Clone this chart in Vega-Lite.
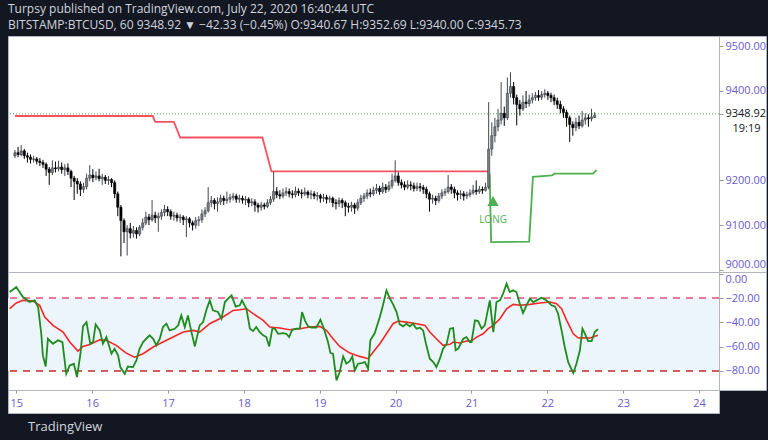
{
"$schema": "https://vega.github.io/schema/vega-lite/v6.json",
"background": "#131722",
"padding": {"top": 2, "left": 5, "right": 5, "bottom": 6},
"title": {"text": "Turpsy published on TradingView.com, July 22, 2020 16:40:44 UTC", "subtitle": "BITSTAMP:BTCUSD, 60  9348.92 ▼ −42.33 (−0.45%) O:9340.67 H:9352.69 L:9340.00 C:9345.73", "anchor": "start", "frame": "group", "color": "#d1d4dc", "font": "Open Sans", "fontSize": 12, "fontWeight": "normal", "subtitleColor": "#d1d4dc", "subtitleFont": "Open Sans", "subtitleFontSize": 12, "subtitleFontWeight": "normal", "subtitlePadding": 4, "offset": 4},
"config": {"view": {"fill": "white", "stroke": "#b2b5be"}, "concat": {"spacing": 0}},
"spacing": 0,
"columns": 2,
"bounds": "flush",
"datasets": {
"candles": [
{"t":-2,"o":9255,"h":9268,"l":9250,"c":9262},{"t":-1,"o":9262,"h":9275,"l":9252,"c":9258},{"t":0,"o":9258,"h":9279,"l":9254,"c":9266},{"t":1,"o":9266,"h":9270,"l":9248,"c":9255},{"t":2,"o":9255,"h":9262,"l":9240,"c":9252},{"t":3,"o":9252,"h":9258,"l":9238,"c":9247},{"t":4,"o":9247,"h":9255,"l":9240,"c":9248},{"t":5,"o":9248,"h":9252,"l":9236,"c":9243},{"t":6,"o":9243,"h":9250,"l":9232,"c":9240},{"t":7,"o":9240,"h":9246,"l":9228,"c":9236},
{"t":8,"o":9236,"h":9240,"l":9210,"c":9225},{"t":9,"o":9225,"h":9230,"l":9190,"c":9218},{"t":10,"o":9218,"h":9245,"l":9212,"c":9228},{"t":11,"o":9228,"h":9242,"l":9218,"c":9226},{"t":12,"o":9226,"h":9244,"l":9220,"c":9230},{"t":13,"o":9230,"h":9240,"l":9215,"c":9224},{"t":14,"o":9224,"h":9236,"l":9210,"c":9228},{"t":15,"o":9228,"h":9238,"l":9212,"c":9220},{"t":16,"o":9220,"h":9224,"l":9185,"c":9205},{"t":17,"o":9205,"h":9210,"l":9156,"c":9198},
{"t":18,"o":9198,"h":9205,"l":9170,"c":9192},{"t":19,"o":9192,"h":9198,"l":9165,"c":9180},{"t":20,"o":9180,"h":9195,"l":9172,"c":9186},{"t":21,"o":9186,"h":9215,"l":9180,"c":9205},{"t":22,"o":9205,"h":9234,"l":9198,"c":9212},{"t":23,"o":9212,"h":9225,"l":9196,"c":9206},{"t":24,"o":9206,"h":9220,"l":9200,"c":9210},{"t":25,"o":9210,"h":9226,"l":9198,"c":9204},{"t":26,"o":9204,"h":9215,"l":9190,"c":9207},{"t":27,"o":9207,"h":9212,"l":9192,"c":9200},
{"t":28,"o":9200,"h":9210,"l":9190,"c":9202},{"t":29,"o":9202,"h":9205,"l":9185,"c":9195},{"t":30,"o":9195,"h":9200,"l":9160,"c":9170},{"t":31,"o":9170,"h":9175,"l":9120,"c":9140},{"t":32,"o":9140,"h":9145,"l":9030,"c":9110},{"t":33,"o":9110,"h":9115,"l":9060,"c":9085},{"t":34,"o":9085,"h":9100,"l":9032,"c":9092},{"t":35,"o":9092,"h":9105,"l":9070,"c":9082},{"t":36,"o":9082,"h":9098,"l":9072,"c":9088},{"t":37,"o":9088,"h":9095,"l":9070,"c":9080},
{"t":38,"o":9080,"h":9100,"l":9075,"c":9095},{"t":39,"o":9095,"h":9115,"l":9088,"c":9105},{"t":40,"o":9105,"h":9130,"l":9100,"c":9118},{"t":41,"o":9118,"h":9125,"l":9100,"c":9112},{"t":42,"o":9112,"h":9156,"l":9108,"c":9122},{"t":43,"o":9122,"h":9130,"l":9105,"c":9116},{"t":44,"o":9116,"h":9128,"l":9085,"c":9120},{"t":45,"o":9120,"h":9135,"l":9112,"c":9128},{"t":46,"o":9128,"h":9145,"l":9120,"c":9135},{"t":47,"o":9135,"h":9142,"l":9120,"c":9130},
{"t":48,"o":9130,"h":9135,"l":9112,"c":9120},{"t":49,"o":9120,"h":9130,"l":9110,"c":9122},{"t":50,"o":9122,"h":9128,"l":9108,"c":9116},{"t":51,"o":9116,"h":9125,"l":9105,"c":9118},{"t":52,"o":9118,"h":9122,"l":9100,"c":9112},{"t":53,"o":9112,"h":9120,"l":9073,"c":9114},{"t":54,"o":9114,"h":9118,"l":9095,"c":9105},{"t":55,"o":9105,"h":9110,"l":9088,"c":9100},{"t":56,"o":9100,"h":9118,"l":9092,"c":9110},{"t":57,"o":9110,"h":9120,"l":9098,"c":9112},
{"t":58,"o":9112,"h":9135,"l":9105,"c":9125},{"t":59,"o":9125,"h":9140,"l":9118,"c":9132},{"t":60,"o":9132,"h":9185,"l":9128,"c":9150},{"t":61,"o":9150,"h":9165,"l":9140,"c":9155},{"t":62,"o":9155,"h":9160,"l":9135,"c":9148},{"t":63,"o":9148,"h":9162,"l":9130,"c":9152},{"t":64,"o":9152,"h":9168,"l":9145,"c":9160},{"t":65,"o":9160,"h":9166,"l":9145,"c":9155},{"t":66,"o":9155,"h":9175,"l":9148,"c":9158},{"t":67,"o":9158,"h":9170,"l":9150,"c":9162},
{"t":68,"o":9162,"h":9172,"l":9155,"c":9165},{"t":69,"o":9165,"h":9170,"l":9150,"c":9158},{"t":70,"o":9158,"h":9168,"l":9150,"c":9160},{"t":71,"o":9160,"h":9166,"l":9148,"c":9156},{"t":72,"o":9156,"h":9165,"l":9145,"c":9158},{"t":73,"o":9158,"h":9162,"l":9140,"c":9150},{"t":74,"o":9150,"h":9160,"l":9142,"c":9152},{"t":75,"o":9152,"h":9158,"l":9130,"c":9145},{"t":76,"o":9145,"h":9150,"l":9128,"c":9140},{"t":77,"o":9140,"h":9152,"l":9132,"c":9145},
{"t":78,"o":9145,"h":9150,"l":9135,"c":9142},{"t":79,"o":9142,"h":9158,"l":9138,"c":9150},{"t":80,"o":9150,"h":9165,"l":9145,"c":9158},{"t":81,"o":9158,"h":9220,"l":9152,"c":9175},{"t":82,"o":9175,"h":9185,"l":9160,"c":9168},{"t":83,"o":9168,"h":9178,"l":9158,"c":9165},{"t":84,"o":9165,"h":9182,"l":9160,"c":9172},{"t":85,"o":9172,"h":9185,"l":9165,"c":9175},{"t":86,"o":9175,"h":9182,"l":9162,"c":9170},{"t":87,"o":9170,"h":9178,"l":9160,"c":9168},
{"t":88,"o":9168,"h":9186,"l":9162,"c":9176},{"t":89,"o":9176,"h":9182,"l":9165,"c":9172},{"t":90,"o":9172,"h":9180,"l":9160,"c":9170},{"t":91,"o":9170,"h":9184,"l":9165,"c":9174},{"t":92,"o":9174,"h":9178,"l":9160,"c":9168},{"t":93,"o":9168,"h":9178,"l":9158,"c":9170},{"t":94,"o":9170,"h":9176,"l":9158,"c":9165},{"t":95,"o":9165,"h":9174,"l":9155,"c":9166},{"t":96,"o":9166,"h":9170,"l":9150,"c":9160},{"t":97,"o":9160,"h":9170,"l":9152,"c":9162},
{"t":98,"o":9162,"h":9168,"l":9148,"c":9158},{"t":99,"o":9158,"h":9166,"l":9150,"c":9160},{"t":100,"o":9160,"h":9164,"l":9140,"c":9150},{"t":101,"o":9150,"h":9158,"l":9135,"c":9148},{"t":102,"o":9148,"h":9162,"l":9140,"c":9155},{"t":103,"o":9155,"h":9160,"l":9138,"c":9150},{"t":104,"o":9150,"h":9155,"l":9120,"c":9142},{"t":105,"o":9142,"h":9150,"l":9128,"c":9140},{"t":106,"o":9140,"h":9152,"l":9130,"c":9145},{"t":107,"o":9145,"h":9150,"l":9125,"c":9138},
{"t":108,"o":9138,"h":9158,"l":9132,"c":9150},{"t":109,"o":9150,"h":9168,"l":9145,"c":9160},{"t":110,"o":9160,"h":9172,"l":9152,"c":9165},{"t":111,"o":9165,"h":9180,"l":9158,"c":9172},{"t":112,"o":9172,"h":9182,"l":9162,"c":9170},{"t":113,"o":9170,"h":9186,"l":9165,"c":9178},{"t":114,"o":9178,"h":9192,"l":9170,"c":9182},{"t":115,"o":9182,"h":9188,"l":9168,"c":9175},{"t":116,"o":9175,"h":9195,"l":9170,"c":9185},{"t":117,"o":9185,"h":9192,"l":9172,"c":9180},
{"t":118,"o":9180,"h":9198,"l":9175,"c":9188},{"t":119,"o":9188,"h":9215,"l":9182,"c":9200},{"t":120,"o":9200,"h":9245,"l":9195,"c":9210},{"t":121,"o":9210,"h":9218,"l":9188,"c":9195},{"t":122,"o":9195,"h":9202,"l":9182,"c":9190},{"t":123,"o":9190,"h":9198,"l":9178,"c":9185},{"t":124,"o":9185,"h":9200,"l":9180,"c":9190},{"t":125,"o":9190,"h":9198,"l":9178,"c":9188},{"t":126,"o":9188,"h":9195,"l":9175,"c":9182},{"t":127,"o":9182,"h":9195,"l":9176,"c":9186},
{"t":128,"o":9186,"h":9194,"l":9175,"c":9184},{"t":129,"o":9184,"h":9190,"l":9170,"c":9180},{"t":130,"o":9180,"h":9186,"l":9160,"c":9170},{"t":131,"o":9170,"h":9175,"l":9130,"c":9158},{"t":132,"o":9158,"h":9168,"l":9148,"c":9160},{"t":133,"o":9160,"h":9166,"l":9145,"c":9155},{"t":134,"o":9155,"h":9172,"l":9150,"c":9165},{"t":135,"o":9165,"h":9180,"l":9158,"c":9172},{"t":136,"o":9172,"h":9182,"l":9165,"c":9175},{"t":137,"o":9175,"h":9212,"l":9170,"c":9185},
{"t":138,"o":9185,"h":9192,"l":9170,"c":9180},{"t":139,"o":9180,"h":9186,"l":9160,"c":9172},{"t":140,"o":9172,"h":9178,"l":9155,"c":9168},{"t":141,"o":9168,"h":9178,"l":9158,"c":9170},{"t":142,"o":9170,"h":9176,"l":9155,"c":9165},{"t":143,"o":9165,"h":9175,"l":9158,"c":9168},{"t":144,"o":9168,"h":9180,"l":9162,"c":9172},{"t":145,"o":9172,"h":9190,"l":9168,"c":9178},{"t":146,"o":9178,"h":9200,"l":9168,"c":9175},{"t":147,"o":9175,"h":9188,"l":9170,"c":9180},
{"t":148,"o":9180,"h":9186,"l":9170,"c":9178},{"t":149,"o":9178,"h":9195,"l":9175,"c":9185},{"t":150,"o":9185,"h":9375,"l":9180,"c":9270},{"t":151,"o":9270,"h":9330,"l":9255,"c":9300},{"t":152,"o":9300,"h":9340,"l":9285,"c":9320},{"t":153,"o":9320,"h":9360,"l":9310,"c":9335},{"t":154,"o":9335,"h":9420,"l":9325,"c":9350},{"t":155,"o":9350,"h":9365,"l":9322,"c":9340},{"t":156,"o":9340,"h":9430,"l":9335,"c":9395},{"t":157,"o":9395,"h":9442,"l":9385,"c":9410},
{"t":158,"o":9410,"h":9420,"l":9370,"c":9385},{"t":159,"o":9385,"h":9392,"l":9323,"c":9370},{"t":160,"o":9370,"h":9380,"l":9345,"c":9360},{"t":161,"o":9360,"h":9390,"l":9355,"c":9375},{"t":162,"o":9375,"h":9400,"l":9362,"c":9372},{"t":163,"o":9372,"h":9392,"l":9365,"c":9380},{"t":164,"o":9380,"h":9395,"l":9372,"c":9385},{"t":165,"o":9385,"h":9398,"l":9378,"c":9390},{"t":166,"o":9390,"h":9402,"l":9378,"c":9386},{"t":167,"o":9386,"h":9400,"l":9380,"c":9392},
{"t":168,"o":9392,"h":9404,"l":9385,"c":9395},{"t":169,"o":9395,"h":9400,"l":9380,"c":9390},{"t":170,"o":9390,"h":9396,"l":9375,"c":9385},{"t":171,"o":9385,"h":9392,"l":9368,"c":9378},{"t":172,"o":9378,"h":9385,"l":9360,"c":9370},{"t":173,"o":9370,"h":9378,"l":9350,"c":9360},{"t":174,"o":9360,"h":9366,"l":9340,"c":9352},{"t":175,"o":9352,"h":9358,"l":9320,"c":9340},{"t":176,"o":9340,"h":9345,"l":9286,"c":9325},{"t":177,"o":9325,"h":9332,"l":9300,"c":9318},
{"t":178,"o":9318,"h":9340,"l":9310,"c":9330},{"t":179,"o":9330,"h":9345,"l":9315,"c":9322},{"t":180,"o":9322,"h":9355,"l":9318,"c":9335},{"t":181,"o":9335,"h":9350,"l":9325,"c":9340},{"t":182,"o":9340,"h":9348,"l":9320,"c":9338},{"t":183,"o":9338,"h":9360,"l":9332,"c":9342},{"t":184,"o":9340.67,"h":9352.69,"l":9340,"c":9345.73}
],
"stopRed": [{"t":-2,"p":9344},{"t":42.2,"p":9344},{"t":43,"p":9331},{"t":49,"p":9331},{"t":51,"p":9296},{"t":77.4,"p":9296},{"t":80.3,"p":9220},{"t":150,"p":9220}],
"stopGreen": [{"t":150.3,"p":9215},{"t":150.8,"p":9062},{"t":163,"p":9063},{"t":164.2,"p":9208},{"t":170.3,"p":9211},{"t":171.1,"p":9215},{"t":183.5,"p":9215},{"t":184.6,"p":9223}],
"signal": [{"t":151.4,"p":9154,"label":"LONG","lp":9112}],
"last": [{"p":9348.92,"tp":9316,"timer":"19:19"}],
"pctR": [
{"t":-2.1,"v":-15.1},{"t":0,"v":-10.9},{"t":2.1,"v":-19.2},{"t":4.2,"v":-23.3},{"t":5.8,"v":-21.9},{"t":6.9,"v":-27.4},{"t":7.9,"v":-49.4},{"t":8.4,"v":-67.2},{"t":9.3,"v":-76.3},{"t":10,"v":-53.5},{"t":11.6,"v":-57.6},{"t":13.2,"v":-54.8},{"t":14.6,"v":-56.2},{"t":15.8,"v":-82.3},{"t":16.9,"v":-75.4},{"t":18.2,"v":-74.1},{"t":19.2,"v":-85},{"t":20.3,"v":-65.8},{"t":21.1,"v":-43.3},{"t":22.2,"v":-39.8},{"t":23.4,"v":-57.6},{"t":24.3,"v":-56.2},{"t":25.1,"v":-41.7},{"t":26.4,"v":-46.6},{"t":27.4,"v":-57.6},{"t":28.5,"v":-52.1},{"t":30.1,"v":-65.8},{"t":31.1,"v":-61.7},{"t":32.2,"v":-67.2},{"t":32.9,"v":-76.8},{"t":34.3,"v":-82.3},{"t":35.3,"v":-76.3},{"t":36.9,"v":-76.8},{"t":38,"v":-71.3},{"t":39,"v":-61.7},{"t":40.1,"v":-56.2},{"t":41.1,"v":-53.5},{"t":42.2,"v":-50.7},{"t":43.3,"v":-53.5},{"t":44.3,"v":-58.9},{"t":45.4,"v":-53.5},{"t":46.4,"v":-43.9},{"t":47.5,"v":-41.1},{"t":48.5,"v":-46.6},{"t":50.1,"v":-45.3},{"t":51.2,"v":-42.5},{"t":52.2,"v":-34.3},{"t":53.3,"v":-43.9},{"t":54.3,"v":-34.3},{"t":55.4,"v":-48},{"t":56.5,"v":-59.8},{"t":58,"v":-42.5},{"t":59.1,"v":-39.8},{"t":60.1,"v":-30.1},{"t":61.2,"v":-21.9},{"t":62.2,"v":-30.1},{"t":63.8,"v":-31.5},{"t":64.9,"v":-37},{"t":66,"v":-23.3},{"t":67,"v":-20.5},{"t":68.1,"v":-17.8},{"t":69.4,"v":-27},{"t":70.7,"v":-26},{"t":71.4,"v":-21.9},{"t":72.8,"v":-28.8},{"t":73.9,"v":-45.2},{"t":74.9,"v":-47.2},{"t":75.9,"v":-43.9},{"t":77,"v":-48},{"t":78.1,"v":-50.7},{"t":79.1,"v":-52.1},{"t":80,"v":-59.8},{"t":81,"v":-45.2},{"t":81.8,"v":-45.2},{"t":82.8,"v":-49.4},{"t":84.4,"v":-48.8},{"t":85.4,"v":-49.4},{"t":86.3,"v":-52.1},{"t":87.3,"v":-46.1},{"t":88.6,"v":-45.2},{"t":89.7,"v":-45.2},{"t":90.4,"v":-31.5},{"t":91.3,"v":-38.4},{"t":92.3,"v":-43.3},{"t":93.4,"v":-44.4},{"t":94.9,"v":-44.4},{"t":96.2,"v":-37.8},{"t":97.3,"v":-45.2},{"t":98.6,"v":-56.2},{"t":99.4,"v":-65.3},{"t":100.2,"v":-65.8},{"t":101.3,"v":-87.8},{"t":102.3,"v":-80.9},{"t":103.4,"v":-68},{"t":104.4,"v":-74},{"t":105.5,"v":-71.9},{"t":106.3,"v":-68},{"t":107.1,"v":-79.5},{"t":108.1,"v":-74},{"t":109.2,"v":-73.5},{"t":110.3,"v":-72.7},{"t":111.3,"v":-78.2},{"t":112,"v":-54.8},{"t":113.4,"v":-48.8},{"t":115,"v":-35.6},{"t":116,"v":-26},{"t":117.1,"v":-13.7},{"t":118.2,"v":-20.5},{"t":119.2,"v":-25.2},{"t":120.3,"v":-31.5},{"t":121.3,"v":-41.7},{"t":122.4,"v":-43.3},{"t":123.4,"v":-41.1},{"t":124.5,"v":-43.3},{"t":125.5,"v":-41.1},{"t":126.6,"v":-45.2},{"t":127.7,"v":-44.4},{"t":128.7,"v":-46.6},{"t":129.6,"v":-57.6},{"t":130.8,"v":-69.9},{"t":131.9,"v":-72.7},{"t":132.9,"v":-76.8},{"t":134,"v":-69.9},{"t":135,"v":-61.7},{"t":136.1,"v":-58.1},{"t":137.2,"v":-45.2},{"t":138.2,"v":-44.7},{"t":139,"v":-63},{"t":139.8,"v":-61.7},{"t":141.4,"v":-53.5},{"t":142.4,"v":-52.1},{"t":143.5,"v":-56.2},{"t":144,"v":-56.2},{"t":145.1,"v":-38.4},{"t":146.1,"v":-38.9},{"t":147.2,"v":-45.2},{"t":148.2,"v":-42.5},{"t":149.8,"v":-21.9},{"t":150.9,"v":-48},{"t":151.9,"v":-23.3},{"t":153,"v":-21.9},{"t":154,"v":-16.4},{"t":155.1,"v":-8.2},{"t":156.1,"v":-15.1},{"t":157.2,"v":-13.7},{"t":158.2,"v":-15.1},{"t":159.3,"v":-24.7},{"t":160.3,"v":-32.3},{"t":161.4,"v":-26},{"t":162.5,"v":-20.5},{"t":163.5,"v":-23.3},{"t":164.6,"v":-21.9},{"t":166.1,"v":-19.7},{"t":167.2,"v":-21.1},{"t":168.3,"v":-23.3},{"t":169.3,"v":-26},{"t":170.4,"v":-26.9},{"t":171.4,"v":-32.9},{"t":172.5,"v":-46.6},{"t":173.5,"v":-60.3},{"t":174.6,"v":-72.7},{"t":176.2,"v":-81.7},{"t":177.2,"v":-74},{"t":178.3,"v":-63},{"t":179.1,"v":-45.2},{"t":179.9,"v":-49.4},{"t":180.9,"v":-55.4},{"t":182,"v":-55.4},{"t":183,"v":-48},{"t":184,"v":-45.5}
],
"sigLine": [
{"t":-2.1,"v":-28.8},{"t":0,"v":-24.1},{"t":2.1,"v":-21.9},{"t":5.3,"v":-22.5},{"t":7.4,"v":-26},{"t":9,"v":-35.6},{"t":11.6,"v":-42.5},{"t":14.8,"v":-48},{"t":16.9,"v":-56.2},{"t":19.5,"v":-63.6},{"t":21.1,"v":-59.8},{"t":23.2,"v":-58.2},{"t":26.4,"v":-54.3},{"t":28.5,"v":-54.8},{"t":31.6,"v":-58.9},{"t":34.8,"v":-65.3},{"t":37.4,"v":-68.6},{"t":40.1,"v":-65.8},{"t":43.3,"v":-60.3},{"t":46.4,"v":-56.2},{"t":49.6,"v":-52.1},{"t":52.8,"v":-48},{"t":56,"v":-46.6},{"t":58,"v":-48},{"t":61.2,"v":-41.1},{"t":65.4,"v":-35.6},{"t":68.6,"v":-30.2},{"t":70.7,"v":-29.6},{"t":72.8,"v":-28.8},{"t":74.9,"v":-32.9},{"t":78.1,"v":-38.4},{"t":80.2,"v":-43.9},{"t":83.3,"v":-44.7},{"t":86.5,"v":-46.1},{"t":89.7,"v":-45.2},{"t":92.8,"v":-43.9},{"t":96,"v":-43.3},{"t":98.1,"v":-46.6},{"t":100.2,"v":-53.5},{"t":102.3,"v":-59.8},{"t":105.5,"v":-65.3},{"t":108.6,"v":-68},{"t":111.3,"v":-69.9},{"t":112.9,"v":-64.4},{"t":115,"v":-57.6},{"t":117.1,"v":-49.4},{"t":119.2,"v":-41.1},{"t":120.8,"v":-38.9},{"t":123.4,"v":-39.8},{"t":126.6,"v":-41.1},{"t":129.3,"v":-42.5},{"t":130.8,"v":-48},{"t":132.9,"v":-53.5},{"t":135,"v":-58.9},{"t":137.2,"v":-58.1},{"t":138.2,"v":-56.2},{"t":140.3,"v":-57},{"t":142.4,"v":-55.4},{"t":144,"v":-55.4},{"t":145.6,"v":-52.1},{"t":147.7,"v":-49.4},{"t":149.3,"v":-45.2},{"t":150.9,"v":-42.5},{"t":153,"v":-37},{"t":155.1,"v":-28.8},{"t":157.2,"v":-25.2},{"t":159.3,"v":-26},{"t":162.5,"v":-25.2},{"t":165.6,"v":-24.1},{"t":168.8,"v":-23.3},{"t":170.9,"v":-24.7},{"t":172.5,"v":-28.8},{"t":174.1,"v":-38.4},{"t":176.2,"v":-49.4},{"t":177.8,"v":-52.9},{"t":179.4,"v":-52.7},{"t":181.5,"v":-52.9},{"t":184,"v":-50.7}
],
"levels": [{"v":-20,"k":"upper"},{"v":-80,"k":"lower"}],
"band": [{"hi":-20,"lo":-80}]
},
"concat": [
 {"width": 711, "height": 236,
  "layer": [
  {"data": {"name": "last"}, "mark": {"type": "rule", "color": "#4caf50", "strokeWidth": 1, "strokeDash": [1, 2]},
   "encoding": {"y": {"field": "p", "type": "quantitative", "scale": {"domain": [8995.1, 9523], "nice": false, "zero": false}, "axis": null}}},
  {"data": {"name": "stopRed"}, "mark": {"type": "line", "color": "#f7525f", "strokeWidth": 1.8},
   "encoding": {"x": {"field": "t", "type": "quantitative", "scale": {"domain": [-2.625, 222.3], "nice": false, "zero": false}, "axis": null},
    "y": {"field": "p", "type": "quantitative", "scale": {"domain": [8995.1, 9523], "nice": false, "zero": false}, "axis": null}}},
  {"data": {"name": "stopGreen"}, "mark": {"type": "line", "color": "#4caf50", "strokeWidth": 1.8},
   "encoding": {"x": {"field": "t", "type": "quantitative", "scale": {"domain": [-2.625, 222.3], "nice": false, "zero": false}, "axis": null},
    "y": {"field": "p", "type": "quantitative", "scale": {"domain": [8995.1, 9523], "nice": false, "zero": false}, "axis": null}}},
  {"data": {"name": "candles"}, "mark": {"type": "rule", "strokeWidth": 1},
   "encoding": {"x": {"field": "t", "type": "quantitative", "scale": {"domain": [-2.625, 222.3], "nice": false, "zero": false}, "axis": null},
    "y": {"field": "l", "type": "quantitative", "scale": {"domain": [8995.1, 9523], "nice": false, "zero": false}, "axis": null}, "y2": {"field": "h"},
    "color": {"condition": {"test": "datum.c >= datum.o", "value": "#45484f"}, "value": "#000000"}}},
  {"data": {"name": "candles"}, "mark": {"type": "bar", "size": 2.2, "strokeWidth": 0.6},
   "encoding": {"x": {"field": "t", "type": "quantitative", "scale": {"domain": [-2.625, 222.3], "nice": false, "zero": false}, "axis": null},
    "y": {"field": "o", "type": "quantitative", "scale": {"domain": [8995.1, 9523], "nice": false, "zero": false}, "axis": null}, "y2": {"field": "c"},
    "fill": {"condition": {"test": "datum.c >= datum.o", "value": "#7b7e85"}, "value": "#000000"},
    "stroke": {"condition": {"test": "datum.c >= datum.o", "value": "#3c3f46"}, "value": "#000000"}}},
  {"data": {"name": "signal"}, "mark": {"type": "point", "shape": "triangle-up", "filled": true, "size": 130, "color": "#4caf50", "opacity": 1},
   "encoding": {"x": {"field": "t", "type": "quantitative", "scale": {"domain": [-2.625, 222.3], "nice": false, "zero": false}, "axis": null},
    "y": {"field": "p", "type": "quantitative", "scale": {"domain": [8995.1, 9523], "nice": false, "zero": false}, "axis": null}}},
  {"data": {"name": "signal"}, "mark": {"type": "text", "color": "#4caf50", "fontSize": 10, "font": "Open Sans"},
   "encoding": {"x": {"field": "t", "type": "quantitative", "scale": {"domain": [-2.625, 222.3], "nice": false, "zero": false}, "axis": null},
    "y": {"field": "lp", "type": "quantitative", "scale": {"domain": [8995.1, 9523], "nice": false, "zero": false}, "axis": null}, "text": {"field": "label"}}}
  ]},
 {"width": 47, "height": 236,
  "data": {"name": "last"},
  "mark": {"type": "text", "color": "#131722", "fontSize": 11, "font": "Open Sans", "dx": 4},
  "encoding": {
   "y": {"field": "tp", "type": "quantitative", "scale": {"domain": [8995.1, 9523], "nice": false, "zero": false},
    "axis": {"orient": "left", "values": [9000, 9100, 9200, 9348.92, 9400, 9500], "format": ".2f", "title": null, "grid": false, "domain": false, "tickColor": "#9598a1", "tickSize": -4, "labelPadding": -2, "labelAlign": "left", "labelFontSize": 11, "labelFont": "Open Sans", "labelOverlap": false, "labelBound": false, "labelFlush": false, "zindex": 1,
     "labelBaseline": {"condition": {"test": "datum.value == 9000", "value": "bottom"}, "value": "middle"},
     "labelColor": {"condition": {"test": "datum.value == 9348.92", "value": "#131722"}, "value": "#6a5acd"}}},
   "text": {"field": "timer"}}},
 {"width": 711, "height": 118,
  "layer": [
  {"data": {"name": "band"}, "mark": {"type": "rect", "color": "#edf5fc"},
   "encoding": {"y": {"field": "hi", "type": "quantitative", "scale": {"domain": [-95.64, 1.4], "nice": false, "zero": false}, "axis": null}, "y2": {"field": "lo"}}},
  {"data": {"name": "levels"}, "mark": {"type": "rule", "strokeWidth": 1.5, "strokeDash": [7, 6]},
   "encoding": {"y": {"field": "v", "type": "quantitative", "scale": {"domain": [-95.64, 1.4], "nice": false, "zero": false}, "axis": null},
    "color": {"condition": {"test": "datum.k == 'upper'", "value": "#e8507c"}, "value": "#c62828"}}},
  {"data": {"name": "sigLine"}, "mark": {"type": "line", "color": "#f52626", "strokeWidth": 1.6},
   "encoding": {"x": {"field": "t", "type": "quantitative", "scale": {"domain": [-2.625, 222.3], "nice": false, "zero": false}, "axis": null},
    "y": {"field": "v", "type": "quantitative", "scale": {"domain": [-95.64, 1.4], "nice": false, "zero": false}, "axis": null}}},
  {"data": {"name": "pctR"}, "mark": {"type": "line", "color": "#1e8c1e", "strokeWidth": 1.8},
   "encoding": {"x": {"field": "t", "type": "quantitative", "scale": {"domain": [-2.625, 222.3], "nice": false, "zero": false}, "axis": null},
    "y": {"field": "v", "type": "quantitative", "scale": {"domain": [-95.64, 1.4], "nice": false, "zero": false}, "axis": null}}}
  ]},
 {"width": 47, "height": 118,
  "data": {"name": "band"},
  "mark": {"type": "rect", "color": "white", "opacity": 0},
  "encoding": {
   "y": {"field": "hi", "type": "quantitative", "scale": {"domain": [-95.64, 1.4], "nice": false, "zero": false},
    "axis": {"orient": "left", "values": [0, -20, -40, -60, -80], "format": ".2f", "title": null, "grid": false, "domain": false, "tickColor": "#9598a1", "tickSize": -4, "labelPadding": -2, "labelAlign": "left", "labelFontSize": 11, "labelFont": "Open Sans", "labelColor": "#6a5acd", "labelOverlap": false, "labelBound": false, "labelFlush": false, "zindex": 1,
     "labelBaseline": {"condition": {"test": "datum.value == 0", "value": "top"}, "value": "middle"}}},
   "y2": {"field": "lo"}}},
 {"width": 711, "height": 23,
  "title": {"text": "TradingView", "orient": "bottom", "anchor": "start", "frame": "group", "dx": 20, "offset": 8, "color": "#d1d4dc", "font": "Open Sans", "fontSize": 13, "fontWeight": "normal"},
  "data": {"values": [{}]},
  "mark": {"type": "text", "text": ""},
  "encoding": {"x": {"datum": 0, "type": "quantitative", "scale": {"domain": [-2.625, 222.3], "nice": false, "zero": false},
    "axis": {"orient": "top", "values": [0, 24, 48, 72, 96, 120, 144, 168, 192, 216], "labelExpr": "'' + (15 + datum.value / 24)", "title": null, "grid": false, "domain": false, "tickColor": "#9598a1", "tickSize": -3, "labelPadding": -4, "labelBaseline": "top", "labelAlign": "center", "labelFontSize": 11, "labelFont": "Open Sans", "labelColor": "#6a5acd", "labelFlush": false, "labelOverlap": false, "labelBound": false, "zindex": 1}}}},
 {"width": 47, "height": 23,
  "data": {"values": [{}]},
  "mark": {"type": "text", "text": ""},
  "encoding": {}}
]
}
